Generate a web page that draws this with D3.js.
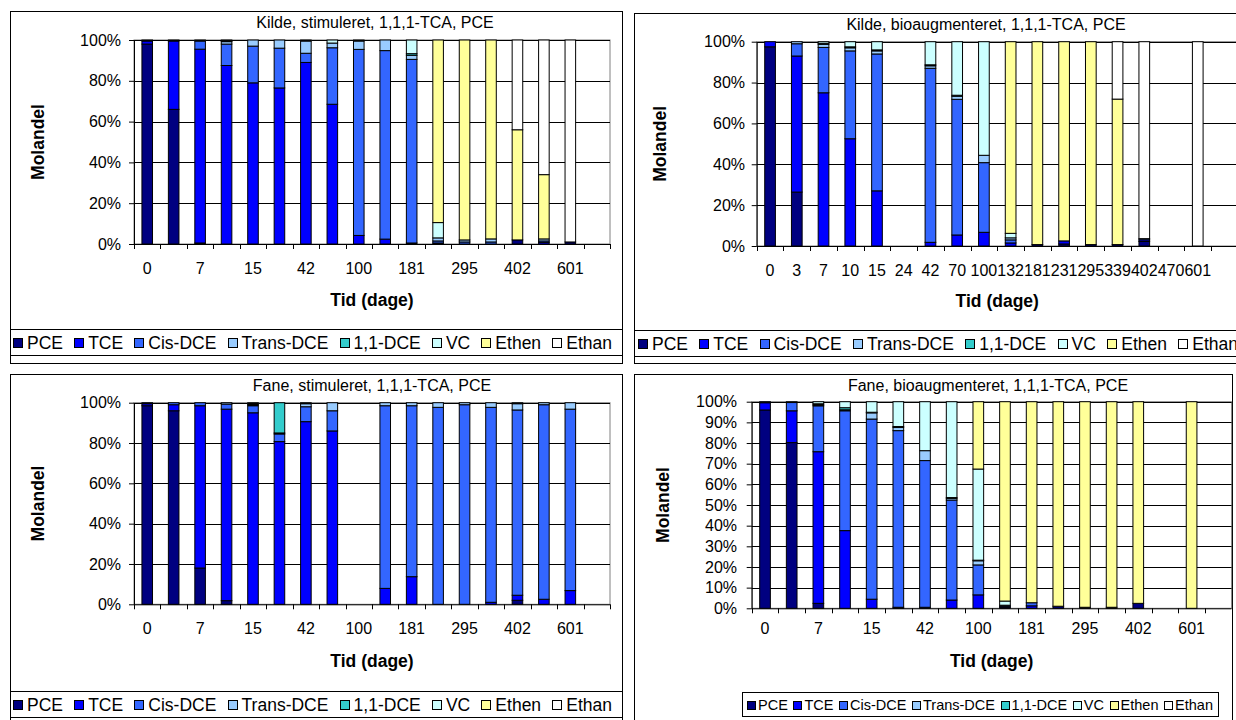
<!DOCTYPE html>
<meta charset="utf-8">
<title>Molandel</title>
<style>
body { margin: 0; background: #fff; }
svg { display: block; font-family: "Liberation Sans", Arial, sans-serif; }
</style>
<body>
<script src="https://cdn.jsdelivr.net/npm/d3@7"></script>
<script>

// Tid (dage) - category labels, last slot is empty in the sheet
var dage = ["0","3","7","10","15","24","42","70","100","132","181","231","295","339","402","470","601",""];

var stoffer = ["PCE","TCE","Cis-DCE","Trans-DCE","1,1-DCE","VC","Ethen","Ethan"];
var farver  = ["#000080","#0000ff","#3366ff","#99ccff","#33cccc","#ccffff","#ffff99","#ffffff"];

// molandel (%) per sampling day: PCE, TCE, Cis, Trans, 1,1-DCE, VC, Ethen, Ethan
var kildeStim = [
  [98,1.5,0.5,0,0,0,0,0],
  [66,33.5,0.5,0,0,0,0,0],
  [0.5,95,4,0.5,0,0,0,0],
  [0,87.5,10.5,1.2,0.3,0.5,0,0],
  [0,79,18,3,0,0,0,0],
  [0,76.5,19.5,4,0,0,0,0],
  [0,89,4.5,6,0,0.5,0,0],
  [0,68.5,27.7,2.3,0,1.5,0,0],
  [0,4.2,91.2,4.1,0,0.5,0,0],
  [0,2.4,92.4,5.2,0,0,0,0],
  [0,0.5,90,2,0.8,6.7,0,0],
  [0,0.5,1,1.5,0,7.5,89.5,0],
  [0,0,1,1,0,0,98,0],
  [0,0,1,1.5,0,0,97.5,0],
  [2,0,0,0,0,0,54,44],
  [0,0.8,0.7,1,0,0,31.5,66],
  [1,0,0,0,0,0,0,99],
  null
];

var kildeBio = [
  [97.5,2.5,0,0,0,0,0,0],
  [26.4,66.6,6,1,0,0,0,0],
  [0,75,22.2,1.5,0.5,0.8,0,0],
  [0,52.5,43,1.5,0.5,2.5,0,0],
  [0,27,67,1.5,0.5,4,0,0],
  null,
  [0,1.8,85.2,1.2,0.5,11.3,0,0],
  [0,5.4,66.4,1.5,0.5,26.2,0,0],
  [0,6.7,34.1,3.6,0,55.6,0,0],
  [0,1.5,1.5,1,0,2.2,93.8,0],
  [0.7,0,0,0,0,0,99.3,0],
  [1,1.5,0,0,0,0,97.5,0],
  [0.7,0,0,0,0,0,99.3,0],
  [0.7,0,0,0,0,0,71.2,28.1],
  [2.2,0.8,0.6,0,0,0,0,96.4],
  null,
  [0,0,0,0,0,0,0,100],
  null
];

var faneStim = [
  [98.5,1,0.5,0,0,0,0,0],
  [96,3,1,0,0,0,0,0],
  [18,80.5,1.5,0,0,0,0,0],
  [1.8,95,2.5,0.7,0,0,0,0],
  [0,95,3.5,0.5,0.5,0.5,0,0],
  [0,80.7,3.8,0.5,15,0,0,0],
  [0,90.6,7.4,1.5,0,0.5,0,0],
  [0,86,10,4,0,0,0,0],
  null,
  [0,7.9,90.6,1.5,0,0,0,0],
  [0,13.7,84.8,1.5,0,0,0,0],
  [0,0,97.7,2.3,0,0,0,0],
  [0,0,99,1,0,0,0,0],
  [0,1,96.7,2.3,0,0,0,0],
  [2,2.5,91.9,3.1,0,0.5,0,0],
  [0,2.5,96.5,1,0,0,0,0],
  [0,6.8,90,3.2,0,0,0,0],
  null
];

var faneBio = [
  [96,3.5,0.5,0,0,0,0,0],
  [80.2,15.4,4,0.4,0,0,0,0],
  [2.4,73.4,22.2,0.5,0.5,1,0,0],
  [0,37.6,58,0.5,1,2.9,0,0],
  [0,4.4,87.2,3,0.3,5.1,0,0],
  [0,0.5,85.5,1.5,0.5,12,0,0],
  [0,0.5,71,4.8,0,23.7,0,0],
  [0,4,48.4,0.8,0.4,46.4,0,0],
  [0,6.5,14.5,2,0.3,44.1,32.6,0],
  [0.5,0.5,0.5,0,0,2,96.5,0],
  [0,1.2,1.5,0,0,0,97.3,0],
  [1,0,0,0,0,0,99,0],
  [0.5,0,0,0,0,0,99.5,0],
  [0.5,0,0,0,0,0,99.5,0],
  [2.4,0,0,0,0,0,97.6,0],
  null,
  [0,0,0,0,0,0,100,0],
  null
];

var yTicks20 = [0, 0.2, 0.4, 0.6, 0.8, 1];
var yTicks10 = d3.range(0, 11).map(function(i) { return i / 10; });

var svg = d3.select("body").append("svg")
    .attr("width", 1236)
    .attr("height", 720);

var color = d3.scaleOrdinal().domain(stoffer).range(farver);

function panel(cfg) {
  var g = svg.append("g");

  // chart area frame
  g.append("rect")
      .attr("x", cfg.frame[0]).attr("y", cfg.frame[1])
      .attr("width", cfg.frame[2]).attr("height", cfg.frame[3])
      .attr("fill", "#fff").attr("stroke", "#000");

  var x = d3.scaleBand()
      .domain(d3.range(dage.length))
      .range([cfg.plot[0], cfg.plot[1]]);
  var y = d3.scaleLinear()
      .domain([0, 1])
      .range([cfg.plot[3], cfg.plot[2]]);

  // plot area
  g.append("rect")
      .attr("x", cfg.plot[0]).attr("y", cfg.plot[2])
      .attr("width", cfg.plot[1] - cfg.plot[0]).attr("height", cfg.plot[3] - cfg.plot[2])
      .attr("fill", "#fff").attr("stroke", "#808080");

  // gridlines + y axis
  var yAx = g.append("g")
      .attr("transform", "translate(" + cfg.plot[0] + ",0)")
      .call(d3.axisLeft(y).tickValues(cfg.ticks).tickFormat(d3.format(".0%"))
        .tickSizeInner(5).tickSizeOuter(0).tickPadding(8));
  yAx.select(".domain").attr("stroke", "#000");
  yAx.selectAll("text").attr("font-size", 16).attr("fill", "#000")
      .attr("x", cfg.ylabX - cfg.plot[0]);
  g.append("g").selectAll("line")
      .data(cfg.ticks.filter(function(d) { return d > 0; }))
    .join("line")
      .attr("x1", cfg.plot[0]).attr("x2", cfg.plot[1])
      .attr("y1", function(d) { return Math.round(y(d)) + 0.5; })
      .attr("y2", function(d) { return Math.round(y(d)) + 0.5; })
      .attr("stroke", "#000");

  // stacked bars
  var rows = cfg.data.map(function(r, i) {
    var o = { i: i, tom: r === null };
    stoffer.forEach(function(s, k) { o[s] = r ? r[k] : 0; });
    return o;
  });
  var stack = d3.stack().keys(stoffer).offset(d3.stackOffsetExpand);
  var series = stack(rows);
  var bw = x.bandwidth() * 0.4;

  g.append("g").selectAll("g")
      .data(series)
    .join("g")
      .attr("fill", function(d) { return color(d.key); })
    .selectAll("rect")
      .data(function(d) { return d.filter(function(p) { return !p.data.tom && p[1] - p[0] > 0; }); })
    .join("rect")
      .attr("x", function(d) { return x(d.data.i) + (x.bandwidth() - bw) / 2; })
      .attr("width", bw)
      .attr("y", function(d) { return y(d[1]); })
      .attr("height", function(d) { return y(d[0]) - y(d[1]); })
      .attr("stroke", "#000")
      .attr("stroke-width", 1);

  // x axis with ticks between categories
  var xg = g.append("g");
  xg.append("line")
      .attr("x1", cfg.plot[0]).attr("x2", cfg.plot[1])
      .attr("y1", cfg.plot[3] + 0.5).attr("y2", cfg.plot[3] + 0.5)
      .attr("stroke", "#000");
  xg.selectAll("line.tk")
      .data(d3.range(dage.length + 1))
    .join("line")
      .attr("class", "tk")
      .attr("x1", function(i) { return Math.round(cfg.plot[0] + i * x.step()) + 0.5; })
      .attr("x2", function(i) { return Math.round(cfg.plot[0] + i * x.step()) + 0.5; })
      .attr("y1", cfg.plot[3]).attr("y2", cfg.plot[3] + 5)
      .attr("stroke", "#000");
  xg.selectAll("text")
      .data(d3.range(dage.length).filter(function(i) { return i % cfg.every === 0; }))
    .join("text")
      .attr("x", function(i) { return x(i) + x.bandwidth() / 2; })
      .attr("y", cfg.xlabY)
      .attr("text-anchor", "middle")
      .attr("dominant-baseline", "central")
      .attr("font-size", 16)
      .text(function(i) { return dage[i]; });

  // titles
  g.append("text")
      .attr("x", cfg.titleX).attr("y", cfg.titleY)
      .attr("text-anchor", "middle").attr("dominant-baseline", "central")
      .attr("font-size", 16)
      .text(cfg.title);
  g.append("text")
      .attr("transform", "translate(" + cfg.molX + "," + (cfg.plot[2] + cfg.plot[3]) / 2 + ") rotate(-90)")
      .attr("text-anchor", "middle").attr("dominant-baseline", "central")
      .attr("font-size", 17.5).attr("font-weight", "bold")
      .text("Molandel");
  g.append("text")
      .attr("x", (cfg.plot[0] + cfg.plot[1]) / 2).attr("y", cfg.tidY)
      .attr("text-anchor", "middle").attr("dominant-baseline", "central")
      .attr("font-size", 17.5).attr("font-weight", "bold")
      .text("Tid (dage)");

  // legend
  var lb = cfg.legend;
  g.append("rect")
      .attr("x", lb.box[0]).attr("y", lb.box[1])
      .attr("width", lb.box[2]).attr("height", lb.box[3])
      .attr("fill", "#fff").attr("stroke", "#000");
  var cy = lb.box[1] + lb.box[3] / 2;
  var items = g.append("g").selectAll("g")
      .data(stoffer)
    .join("g");
  items.append("rect")
      .attr("width", lb.mk).attr("height", lb.mk)
      .attr("y", Math.round(cy - lb.mk / 2) + 0.5)
      .attr("fill", function(d) { return color(d); })
      .attr("stroke", "#000");
  items.append("text")
      .attr("y", cy)
      .attr("dominant-baseline", "central")
      .attr("font-size", lb.fs)
      .text(function(d) { return d; });
  var widths = items.select("text").nodes().map(function(n) { return n.getComputedTextLength(); });
  var total = d3.sum(widths) + stoffer.length * (lb.mk + lb.pad);
  var gap = (lb.end - lb.start - total) / (stoffer.length - 1);
  var cx = lb.start;
  items.each(function(d, k) {
    var it = d3.select(this);
    it.select("rect").attr("x", Math.round(cx) + 0.5);
    it.select("text").attr("x", cx + lb.mk + lb.pad);
    cx += lb.mk + lb.pad + widths[k] + gap;
  });
}

panel({
  data: kildeStim, title: "Kilde, stimuleret, 1,1,1-TCA, PCE",
  frame: [10.5, 11.5, 612, 352], plot: [134, 610, 40, 244],
  ticks: yTicks20, every: 2, ylabX: 121, xlabY: 268, titleX: 375, titleY: 22,
  molX: 38, tidY: 300,
  legend: { box: [10.5, 329.5, 612, 26], start: 13, end: 612, mk: 9, pad: 5, fs: 17.5 }
});

panel({
  data: kildeBio, title: "Kilde, bioaugmenteret, 1,1,1-TCA, PCE",
  frame: [634.5, 13.5, 620, 350], plot: [756.7, 756.7 + 18 * 26.73, 41.7, 246],
  ticks: yTicks20, every: 1, ylabX: 745, xlabY: 270, titleX: 986, titleY: 24,
  molX: 660, tidY: 301,
  legend: { box: [634.5, 330.5, 620, 26], start: 638, end: 1238, mk: 9, pad: 5, fs: 17.5 }
});

panel({
  data: faneStim, title: "Fane, stimuleret, 1,1,1-TCA, PCE",
  frame: [10.5, 374.5, 612, 350], plot: [134, 610, 402.7, 604.3],
  ticks: yTicks20, every: 2, ylabX: 121, xlabY: 628, titleX: 372, titleY: 385,
  molX: 38, tidY: 661,
  legend: { box: [10.5, 691.5, 612, 26], start: 13, end: 612, mk: 9, pad: 5, fs: 17.5 }
});

panel({
  data: faneBio, title: "Fane, bioaugmenteret, 1,1,1-TCA, PCE",
  frame: [634.5, 374.5, 598, 350], plot: [751.7, 751.7 + 18 * 26.66, 401.7, 608.3],
  ticks: yTicks10, every: 2, ylabX: 737, xlabY: 628, titleX: 988, titleY: 385,
  molX: 663, tidY: 661,
  legend: { box: [742.5, 692.5, 476, 24], start: 747, end: 1213, mk: 8, pad: 3, fs: 14.5 }
});

</script>
</body>
